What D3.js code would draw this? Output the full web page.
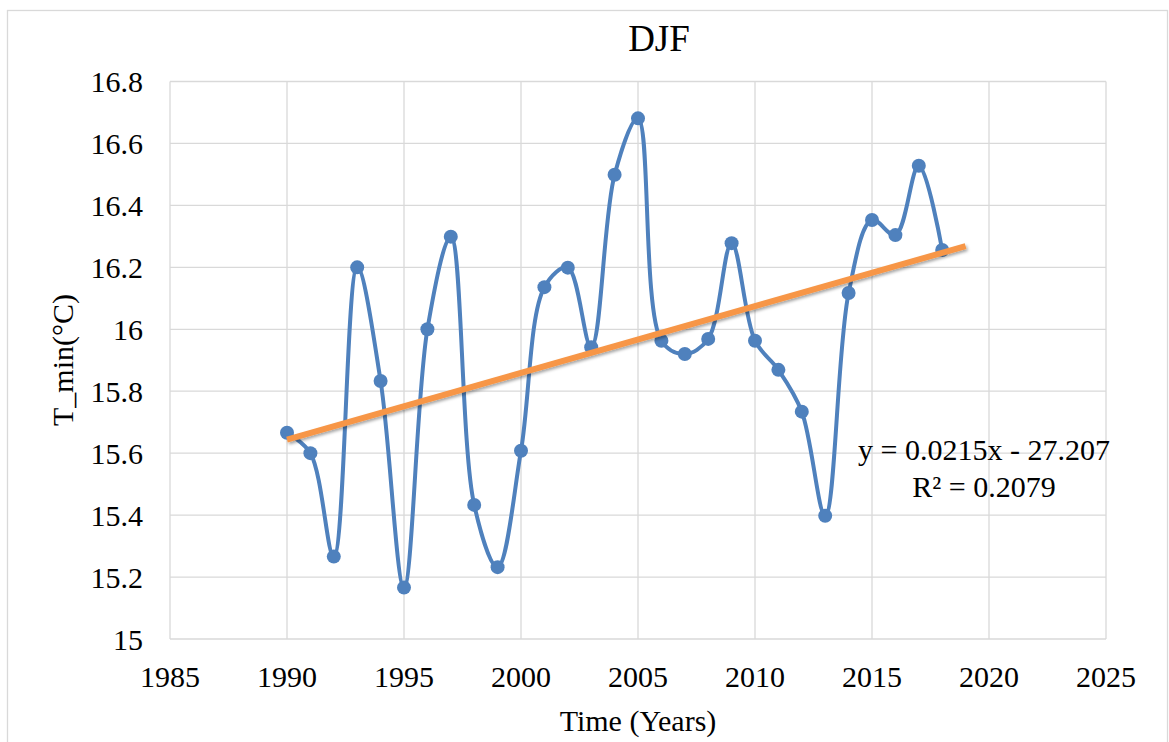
<!DOCTYPE html>
<html>
<head>
<meta charset="utf-8">
<script src="https://cdn.jsdelivr.net/npm/d3@7"></script>
<style>
  html, body { margin: 0; padding: 0; background: #fff; }
  svg { display: block; }
  text { font-family: "Liberation Serif", "Times New Roman", serif; fill: #000; }
</style>
</head>
<body>
<div id="chart"></div>
<script>
// ─── Data (DJF minimum temperature) ───
const years = [
  1990, 1991, 1992, 1993, 1994, 1995, 1996, 1997, 1998, 1999,
  2000, 2001, 2002, 2003, 2004, 2005, 2006, 2007, 2008, 2009,
  2010, 2011, 2012, 2013, 2014, 2015, 2016, 2017, 2018,
];
const tmin = [
  15.666, 15.600, 15.266, 16.200, 15.833, 15.166, 16.000, 16.299, 15.433, 15.232,
  15.608, 16.136, 16.199, 15.942, 16.499, 16.681, 15.963, 15.920, 15.969, 16.278,
  15.963, 15.869, 15.734, 15.398, 16.117, 16.353, 16.304, 16.528, 16.256,
];
const xTicks = [1985, 1990, 1995, 2000, 2005, 2010, 2015, 2020, 2025];
const yTicks = [15, 15.2, 15.4, 15.6, 15.8, 16, 16.2, 16.4, 16.6, 16.8];
const trendEnd = 2019; // trendline forecast forward one period
const equationLines = ["y = 0.0215x - 27.207", "R\u00B2 = 0.2079"];

const width = 1169, height = 742;
const plot = { left: 170, right: 1106, top: 81.5, bottom: 639 };

const svg = d3.select("#chart").append("svg")
  .attr("width", width)
  .attr("height", height);

// outer chart border
svg.append("rect")
  .attr("x", 7.5).attr("y", 10.5)
  .attr("width", 1160).attr("height", 745)
  .attr("fill", "#fff")
  .attr("stroke", "#D9D9D9")
  .attr("stroke-width", 1.3);

const x = d3.scaleLinear().domain([1985, 2025]).range([plot.left, plot.right]);
const y = d3.scaleLinear().domain([15, 16.8]).range([plot.bottom, plot.top]);

// ── Gridlines ──
const grid = svg.append("g").attr("stroke", "#D9D9D9").attr("stroke-width", 1.3);
grid.selectAll("line.v").data(xTicks).join("line")
  .attr("x1", (d) => x(d)).attr("x2", (d) => x(d))
  .attr("y1", plot.top).attr("y2", plot.bottom);
grid.selectAll("line.h").data(yTicks).join("line")
  .attr("x1", plot.left).attr("x2", plot.right)
  .attr("y1", (d) => y(d)).attr("y2", (d) => y(d));

// ── Tick labels ──
svg.append("g").selectAll("text").data(xTicks).join("text")
  .attr("x", (d) => x(d))
  .attr("y", 687)
  .attr("text-anchor", "middle")
  .style("font-size", "30px")
  .text((d) => d);

svg.append("g").selectAll("text").data(yTicks).join("text")
  .attr("x", 143)
  .attr("y", (d) => y(d) + 10.5)
  .attr("text-anchor", "end")
  .style("font-size", "30px")
  .text((d) => d3.format("~g")(d));

// ── Titles ──
svg.append("text")
  .attr("x", 659).attr("y", 50.5)
  .attr("text-anchor", "middle")
  .style("font-size", "37px")
  .text("DJF");

svg.append("text")
  .attr("x", 638).attr("y", 731)
  .attr("text-anchor", "middle")
  .style("font-size", "30px")
  .text("Time (Years)");

svg.append("text")
  .attr("transform", "translate(73,360) rotate(-90)")
  .attr("text-anchor", "middle")
  .style("font-size", "30px")
  .text("T_min(\u00B0C)");

// ── Series ──
const pts = years.map((yr, i) => [yr, tmin[i]]);

const line = d3.line()
  .x((d) => x(d[0]))
  .y((d) => y(d[1]))
  .curve(d3.curveCatmullRom.alpha(0.5));

svg.append("path")
  .datum(pts)
  .attr("d", line)
  .attr("fill", "none")
  .attr("stroke", "#4F81BD")
  .attr("stroke-width", 4)
  .attr("stroke-linejoin", "round");

svg.append("g").selectAll("circle").data(pts).join("circle")
  .attr("cx", (d) => x(d[0]))
  .attr("cy", (d) => y(d[1]))
  .attr("r", 7)
  .attr("fill", "#4F81BD");

// ── Linear trendline (least squares from the series) ──
const mx = d3.mean(years), my = d3.mean(tmin);
let sxy = 0, sxx = 0;
years.forEach((yr, i) => {
  sxy += (yr - mx) * (tmin[i] - my);
  sxx += (yr - mx) * (yr - mx);
});
const slope = sxy / sxx;
const icpt = my - slope * mx;
const trend = [years[0], trendEnd].map((yr) => [yr, icpt + slope * yr]);

const defs = svg.append("defs");
const f = defs.append("filter").attr("id", "shadow")
  .attr("x", "-5%").attr("y", "-50%").attr("width", "110%").attr("height", "200%");
f.append("feDropShadow")
  .attr("dx", 1.5).attr("dy", 2).attr("stdDeviation", 1.6)
  .attr("flood-color", "#000").attr("flood-opacity", 0.35);

svg.append("path")
  .datum(trend)
  .attr("d", d3.line().x((d) => x(d[0])).y((d) => y(d[1])))
  .attr("fill", "none")
  .attr("stroke", "#F79646")
  .attr("stroke-width", 6)
  .attr("filter", "url(#shadow)");

// ── Equation label ──
svg.append("g").selectAll("text").data(equationLines).join("text")
  .attr("x", 984)
  .attr("y", (d, i) => 460 + i * 37.3)
  .attr("text-anchor", "middle")
  .style("font-size", "30px")
  .text((d) => d);
</script>
</body>
</html>
